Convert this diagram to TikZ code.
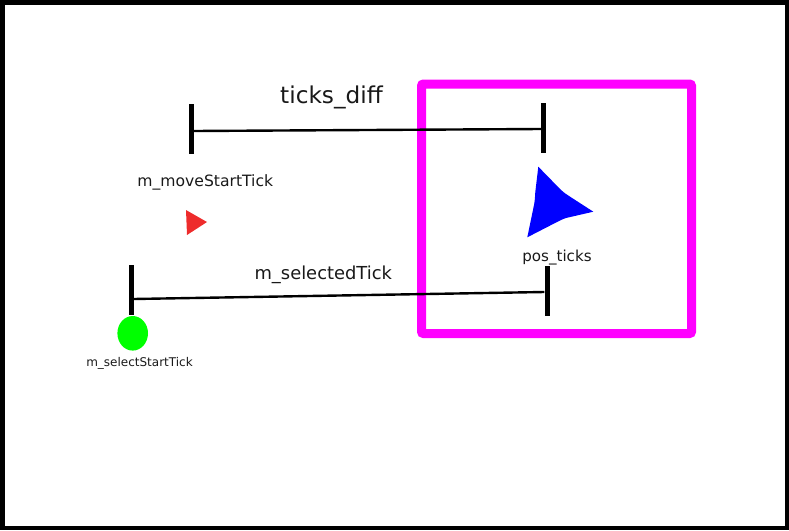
\documentclass[tikz,border=0pt]{standalone}
\usepackage{fontspec}
\setmainfont{DejaVu Sans}
\definecolor{mag}{RGB}{255,0,255}
\definecolor{redtri}{RGB}{238,44,44}
\definecolor{grn}{RGB}{0,255,0}
\definecolor{blu}{RGB}{0,0,255}
\begin{document}
\begin{tikzpicture}[x=1pt,y=-1pt,
  tickbar/.style={fill=black,draw=none,inner sep=0,minimum width=5,minimum height=50},
  conn/.style={line width=2.4},
  lbl/.style={inner sep=0,anchor=base,text=black!90}]
\useasboundingbox (0,0) rectangle (789,530);
\draw[line width=4.5] (2.25,2.25) rectangle (786.75,527.75);
\node[draw=mag,line width=9,rounded corners=2,minimum width=270,minimum height=249.5,inner sep=0] (box) at (556.5,208.75) {};
\node[tickbar] (tl) at (191.5,129) {};
\node[tickbar] (tr) at (543.5,127.5) {};
\node[tickbar] (bl) at (131,290) {};
\node[tickbar] (br) at (547,291) {};
\draw[conn] ([yshift=-2]tl.east) -- ([yshift=-1.5]tr.west);
\draw[conn] ([yshift=-9]bl.east) -- ([yshift=-1]br.west);
\node[lbl,font=\fontsize{23.2}{26}\selectfont] (td) at (331.5,103.3) {ticks\_diff};
\node[lbl,font=\fontsize{15.6}{18}\selectfont] (ms) at (205.3,186) {m\_moveStartTick};
\node[lbl,font=\fontsize{17.9}{20}\selectfont] (st) at (323.3,279.3) {m\_selectedTick};
\node[lbl,font=\fontsize{15.1}{18}\selectfont] (pt) at (557,261) {pos\_ticks};
\node[lbl,font=\fontsize{12}{14}\selectfont] (ss) at (139.5,366) {m\_selectStartTick};
\fill[grn] (132.7,333.3) ellipse [x radius=15.3,y radius=17.3];
\fill[redtri] (186,210) -- (207,222) -- (187,235) -- cycle;
\fill[blu] (538.3,166.7) -- (561,190) .. controls (563,192) and (566,194) .. (569,196)
  -- (593.3,211.7)
  -- (566,218) .. controls (563,219) and (561,220) .. (558,221.5)
  -- (527.3,237.3)
  -- (534,205) .. controls (535,200) and (535,196) .. (535.3,192)
  -- cycle;
\end{tikzpicture}
\end{document}
